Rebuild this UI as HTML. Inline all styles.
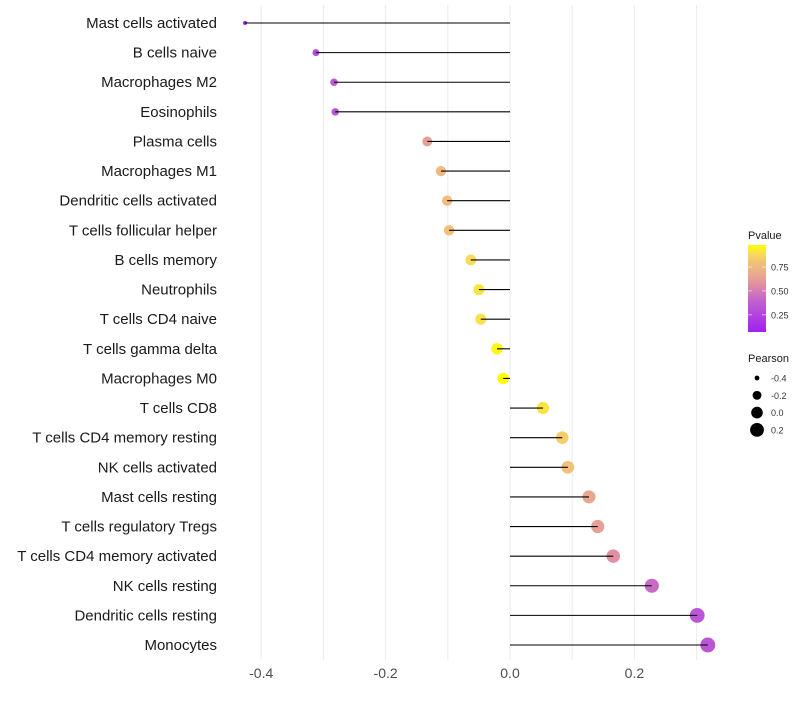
<!DOCTYPE html>
<html><head><meta charset="utf-8"><style>
body{margin:0;background:#fff;font-family:"Liberation Sans",Arial,sans-serif}
</style></head><body>
<svg id="chart" width="800" height="700"></svg>
<script>
const categories=["Mast cells activated","B cells naive","Macrophages M2","Eosinophils","Plasma cells","Macrophages M1","Dendritic cells activated","T cells follicular helper","B cells memory","Neutrophils","T cells CD4 naive","T cells gamma delta","Macrophages M0","T cells CD8","T cells CD4 memory resting","NK cells activated","Mast cells resting","T cells regulatory  Tregs ","T cells CD4 memory activated","NK cells resting","Dendritic cells resting","Monocytes"];
const pearson=[-0.426,-0.312,-0.283,-0.281,-0.133,-0.111,-0.101,-0.098,-0.063,-0.050,-0.047,-0.021,-0.011,0.053,0.084,0.093,0.127,0.141,0.166,0.228,0.301,0.318];
const pvalue=[0.07,0.30,0.34,0.34,0.63,0.75,0.78,0.80,0.89,0.91,0.90,0.96,0.98,0.91,0.84,0.80,0.66,0.63,0.57,0.43,0.34,0.34];
const xTicks=[-0.4,-0.2,0.0,0.2];
const xMinor=[-0.3,-0.1,0.1,0.3];
const legendTicks=[0.25,0.5,0.75];
const sizeTicks=[-0.4,-0.2,0.0,0.2];

const NS="http://www.w3.org/2000/svg";
const svg=document.getElementById('chart');
function mk(t,a,p){const e=document.createElementNS(NS,t);for(const k in a)e.setAttribute(k,a[k]);(p||svg).appendChild(e);return e;}
const xs=v=>510+v*622;
const ys=i=>23+i*(622/21);
const pmin=0.07,pmax=0.98;
const stopsT=[0,0.35,0.55,0.65,0.8,0.9,1];
const stopsC=[[160,32,240],[192,96,208],[224,144,160],[232,168,144],[242,192,120],[248,220,88],[255,255,0]];
function col(p){
  const t=Math.max(0,Math.min(1,(p-pmin)/(pmax-pmin)));
  let k=0;while(k<stopsT.length-2&&t>stopsT[k+1])k++;
  const f=(t-stopsT[k])/(stopsT[k+1]-stopsT[k]);
  const a=stopsC[k],b=stopsC[k+1];
  return `rgb(${a.map((c,i)=>Math.round(c+(b[i]-c)*f)).join(',')})`;
}
const rad=v=>Math.sqrt(4+(v+0.426)/0.744*52);

xMinor.concat(xTicks).forEach(v=>{
  const l=mk('line',{x1:xs(v),x2:xs(v),y1:5,y2:660,stroke:'#ebebeb','stroke-width':1});
  
  
});
xTicks.forEach(v=>{
  const t=mk('text',{x:xs(v),y:678,'text-anchor':'middle','font-size':14,fill:'#4d4d4d'});
  t.textContent=v.toFixed(1);
  
  
});
categories.forEach((c,i)=>{
  const t=mk('text',{x:217,y:ys(i)+5,'text-anchor':'end','font-size':15,fill:'#1a1a1a'});
  t.textContent=c;
  
  
  const p=mk('circle',{cx:xs(pearson[i]),cy:ys(i),r:rad(pearson[i]),fill:col(pvalue[i])});
  
  
  const l=mk('line',{x1:xs(0),x2:xs(pearson[i]),y1:ys(i),y2:ys(i),stroke:'#000','stroke-width':1.1});
  
  
});
const g=mk('g',{});


const ttl=mk('text',{x:748,y:239,'font-size':11,fill:'#1a1a1a'},g);ttl.textContent='Pvalue';
const defs=mk('defs',{});
const lg=mk('linearGradient',{id:'gr',x1:0,y1:1,x2:0,y2:0},defs);
for(let k=0;k<=20;k++){const pv=pmin+(pmax-pmin)*k/20;mk('stop',{offset:k/20,'stop-color':col(pv)},lg);}
const barTop=245,barBot=332;
const ly=p=>barBot-(p-pmin)/(pmax-pmin)*(barBot-barTop);
mk('rect',{x:748,y:barTop,width:18,height:barBot-barTop,fill:'url(#gr)'},g);
legendTicks.forEach(v=>{
  mk('line',{x1:748,x2:752,y1:ly(v),y2:ly(v),stroke:'#fff','stroke-opacity':0.6},g);
  mk('line',{x1:762,x2:766,y1:ly(v),y2:ly(v),stroke:'#fff','stroke-opacity':0.6},g);
  const t=mk('text',{x:771,y:ly(v)+3.5,'font-size':9,fill:'#333'},g);t.textContent=v.toFixed(2);
});
const g2=mk('g',{});


const t2=mk('text',{x:748,y:362,'font-size':11,fill:'#1a1a1a'},g2);t2.textContent='Pearson';
sizeTicks.forEach((v,k)=>{
  const cy=378+k*17.3;
  mk('circle',{cx:757,cy:cy,r:rad(v),fill:'#000'},g2);
  const t=mk('text',{x:771,y:cy+3.5,'font-size':9,fill:'#333'},g2);t.textContent=v.toFixed(1);
});
</script>
</body></html>
